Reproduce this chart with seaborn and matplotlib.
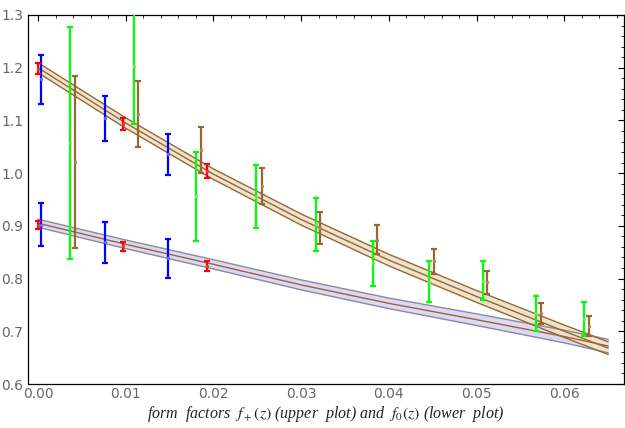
import numpy as np
import pandas as pd
import matplotlib
matplotlib.use("Agg")
import matplotlib.pyplot as plt
import seaborn as sns
from matplotlib.ticker import MultipleLocator

# ---- band data (fit curves) ----
band_z = [0.0, 0.01, 0.02, 0.03, 0.04, 0.05, 0.06, 0.065]
fplus_center = [1.200, 1.095, 0.998, 0.912, 0.835, 0.766, 0.700, 0.668]
fplus_halfw = [0.0095, 0.0098, 0.010, 0.0105, 0.011, 0.0112, 0.0118, 0.012]
fzero_center = [0.905, 0.865, 0.827, 0.788, 0.753, 0.722, 0.690, 0.672]
fzero_halfw = [0.0076, 0.0082, 0.0088, 0.0094, 0.010, 0.011, 0.012, 0.0127]

# ---- data points ----
# blue
blue_z = [0.0003, 0.0076, 0.0148]
blue_fp = [1.178, 1.104, 1.036]
blue_fp_err = [0.046, 0.043, 0.039]
blue_f0 = [0.902, 0.869, 0.8385]
blue_f0_err = [0.041, 0.039, 0.037]
# red
red_z = [0.0, 0.0097, 0.0193]
red_fp = [1.198, 1.093, 1.004]
red_fp_err = [0.010, 0.011, 0.0128]
red_f0 = [0.9015, 0.861, 0.824]
red_f0_err = [0.0082, 0.009, 0.0095]
# green
green_z = [0.0036, 0.0109, 0.0180, 0.0249, 0.0317, 0.0382, 0.0446, 0.0507, 0.0568, 0.0622]
green_fp = [1.058, 1.203, 0.956, 0.955, 0.903, 0.829, 0.794, 0.796, 0.734, 0.723]
green_fp_err = [0.220, 0.110, 0.084, 0.060, 0.050, 0.043, 0.039, 0.037, 0.033, 0.032]
# brown
brown_z = [0.0042, 0.0114, 0.0186, 0.0255, 0.0322, 0.0387, 0.0451, 0.0512, 0.0573, 0.0628]
brown_fp = [1.021, 1.112, 1.044, 0.975, 0.896, 0.874, 0.833, 0.793, 0.734, 0.710]
brown_fp_err = [0.163, 0.062, 0.043, 0.034, 0.030, 0.027, 0.024, 0.022, 0.020, 0.019]

xticks = [0.00, 0.01, 0.02, 0.03, 0.04, 0.05, 0.06]
xtick_labels = ["0.00", "0.01", "0.02", "0.03", "0.04", "0.05", "0.06"]
yticks = [0.6, 0.7, 0.8, 0.9, 1.0, 1.1, 1.2, 1.3]
ytick_labels = ["0.6", "0.7", "0.8", "0.9", "1.0", "1.1", "1.2", "1.3"]
xlabel = r"form  factors  $f_+(z)$ (upper  plot) and  $f_0(z)$ (lower  plot)"

sns.set_style("white")
plt.rcParams['font.family'] = ['DejaVu Sans']
plt.rcParams['mathtext.fontset'] = 'stix'

BROWN = "#996633"
fig = plt.figure(figsize=(6.25, 4.28), dpi=100)
ax = fig.add_axes([0.0448, 0.1028, 0.9536, 0.8622])

bz = np.array(band_z)
for c, h, fill, edge, center in [
    (fzero_center, fzero_halfw, "#dbd9f6", "#8a8a9a", BROWN),
    (fplus_center, fplus_halfw, "#ede4cf", BROWN, BROWN),
]:
    c = np.array(c); h = np.array(h)
    ax.fill_between(bz, c - h, c + h, color=fill, lw=0, zorder=1)
    df = pd.DataFrame({"z": bz, "lo": c - h, "hi": c + h, "c": c})
    sns.lineplot(data=df, x="z", y="lo", color=edge, lw=1.0, ax=ax, zorder=2)
    sns.lineplot(data=df, x="z", y="hi", color=edge, lw=1.0, ax=ax, zorder=2)
    sns.lineplot(data=df, x="z", y="c", color=center, lw=1.0, ax=ax, zorder=2)

def bars(z, v, e, color, dot):
    ax.errorbar(z, v, yerr=e, fmt="none", ecolor=color, elinewidth=1.6,
                capsize=2.2, capthick=1.6, zorder=4)
    sns.scatterplot(x=z, y=v, color=dot, s=6, linewidth=0, ax=ax, zorder=5)

bars(green_z, green_fp, green_fp_err, "#00ff00", "#88dd66")
bars(brown_z, brown_fp, brown_fp_err, BROWN, "#b08860")
bars(blue_z, blue_fp, blue_fp_err, "#0000ff", "#6666ff")
bars(blue_z, blue_f0, blue_f0_err, "#0000ff", "#6666ff")
bars(red_z, red_fp, red_fp_err, "#ff0000", "#cc4444")
bars(red_z, red_f0, red_f0_err, "#ff0000", "#cc4444")

ax.set_xlim(-0.00114, 0.0668)
ax.set_ylim(0.6, 1.3)
ax.set_xticks(xticks)
ax.set_xticklabels(xtick_labels)
ax.set_yticks(yticks)
ax.set_yticklabels(ytick_labels)
ax.xaxis.set_minor_locator(MultipleLocator(0.002))
ax.yaxis.set_minor_locator(MultipleLocator(0.02))
ax.tick_params(which="both", direction="in", top=True, right=True,
               colors="black", labelcolor="#666666", labelsize=10)
ax.tick_params(axis="x", which="major", pad=2)
ax.tick_params(which="major", length=4, width=0.8)
ax.tick_params(which="minor", length=2.2, width=0.6)
for s in ax.spines.values():
    s.set_color("black"); s.set_linewidth(0.9)
ax.set_ylabel("")
ax.set_xlabel(xlabel, family="Liberation Serif", style="italic", fontsize=11.5,
              color="#222222", labelpad=2)
fig.savefig("out.png", dpi=100)
